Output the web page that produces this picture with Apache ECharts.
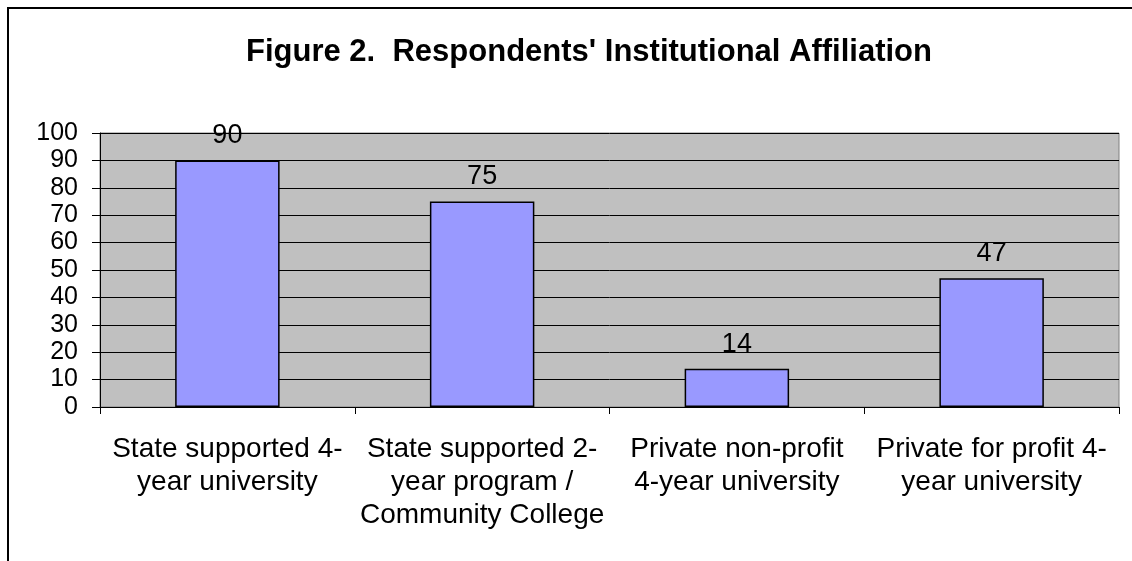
<!DOCTYPE html>
<html>
<head>
<meta charset="utf-8">
<script src="https://cdn.jsdelivr.net/npm/echarts@6/dist/echarts.min.js"></script>
<style>
  html, body { margin: 0; padding: 0; background: #fff; }
  #chart { width: 1132px; height: 561px; }
</style>
</head>
<body>
<div id="chart"></div>
<script>
const categories = [
  'State supported 4-\nyear university',
  'State supported 2-\nyear program /\nCommunity College',
  'Private non-profit\n4-year university',
  'Private for profit 4-\nyear university'
]
const counts = [90, 75, 14, 47]
const yTicks = { min: 0, max: 100, interval: 10 }

const chart = echarts.init(document.getElementById('chart'))

const font = 'Liberation Sans, Arial, sans-serif'

const option = {
  backgroundColor: '#fff',
  animation: false,
  title: {
    text: "Figure 2.  Respondents' Institutional Affiliation",
    left: 584,
    textAlign: 'center',
    top: 32,
    textStyle: {
      fontFamily: font,
      fontSize: 31,
      fontWeight: 'bold',
      color: '#000'
    }
  },
  graphic: [
    {
      type: 'polyline',
      shape: { points: [[8, 561], [8, 8], [1132, 8]] },
      style: { stroke: '#000', lineWidth: 2, fill: null }
    }
  ],
  grid: {
    left: 100,
    top: 133,
    width: 1019,
    height: 274,
    show: true,
    backgroundColor: '#C0C0C0',
    borderColor: '#808080',
    borderWidth: 1
  },
  xAxis: {
    type: 'category',
    data: categories,
    axisLine: { lineStyle: { color: '#000', width: 1 } },
    axisTick: { show: true, length: 7, lineStyle: { color: '#000' } },
    axisLabel: {
      interval: 0,
      margin: 26,
      fontFamily: font,
      fontSize: 28,
      lineHeight: 33,
      color: '#000'
    }
  },
  yAxis: {
    type: 'value',
    min: yTicks.min,
    max: yTicks.max,
    interval: yTicks.interval,
    axisLine: { show: true, lineStyle: { color: '#000', width: 1 } },
    axisTick: { show: true, length: 8, lineStyle: { color: '#000' } },
    axisLabel: {
      margin: 22,
      fontFamily: font,
      fontSize: 25,
      color: '#000'
    },
    splitLine: { show: true, lineStyle: { color: '#000', width: 1 } }
  },
  series: [
    {
      type: 'bar',
      data: counts,
      barWidth: '41%',
      itemStyle: {
        color: '#9999FF',
        borderColor: '#000',
        borderWidth: 1.5
      },
      label: {
        show: true,
        position: 'top',
        distance: 11,
        fontFamily: font,
        fontSize: 27,
        color: '#000'
      }
    }
  ]
}

chart.setOption(option)
</script>
</body>
</html>
